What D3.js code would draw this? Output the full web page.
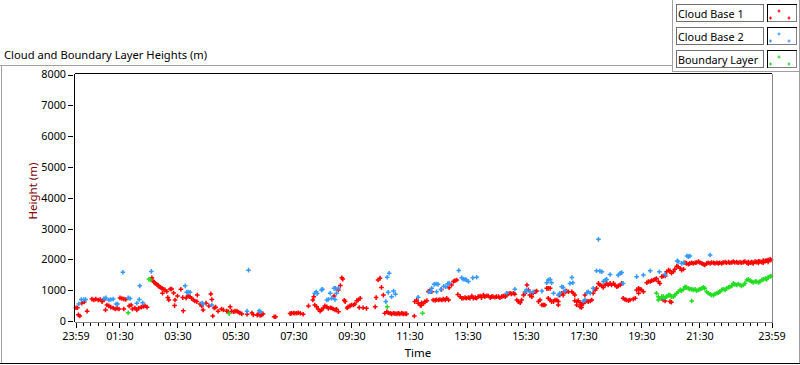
<!DOCTYPE html>
<html><head><meta charset="utf-8">
<script src="https://cdn.jsdelivr.net/npm/d3@7"></script>
<style>
body{margin:0;background:#fff}
svg{display:block}
text{font-family:"Noto Sans",sans-serif;fill:#000}
</style>
</head><body>
<svg id="chart" width="800" height="365"></svg>
<script>
// ---------- data ----------
const chartTitle = "Cloud and Boundary Layer Heights (m)";
const seriesNames = ["Cloud Base 1", "Cloud Base 2", "Boundary Layer"];
const seriesColors = ["#ff0000", "#3399ff", "#22dd22"];
const yTickValues = [0, 1000, 2000, 3000, 4000, 5000, 6000, 7000, 8000];
const xTickLabels = ["23:59","01:30","03:30","05:30","07:30","09:30","11:30","13:30","15:30","17:30","19:30","21:30","23:59"];
const startClock = "23:59";          // time axis starts 23:59, spans 24 h
const spanMinutes = 1440;

// Cloud Base 1 : minutes after 23:59 start, height (m)
const cloudBase1Min = [1,4,6,9,13,18,24,34,38,42,47,51,55,59,62,65,69,73,78,82,86,90,92,96,100,104,100,111,115,118,123,127,131,136,140,144,148,
158,160,162,165,168,171,173,176,179,182,185,180,189,191,193,196,199,203,206,205,211,218,222,223,229,233,237,240,244,247,251,252,258,261,264,270,276,280,282,287,290,295,284,302,306,313,316,320,323,327,330,334,337,340,344,355,365,368,376,378,382,385,388,411,414,444,447,451,454,458,461,465,471,482,
493,491,495,499,502,506,509,513,516,520,523,527,530,533,537,540,544,535,544,548,551,553,556,558,562,564,568,571,575,578,582,585,589,587,595,602,620,622,626,630,633,637,640,644,647,651,654,658,661,665,668,671,675,678,682,685,701,702,706,709,713,716,720,723,727,715,730,733,737,740,744,747,751,754,758,761,765,768,772,757,773,778,782,785,789,791,
796,799,802,806,809,813,816,820,823,827,830,833,837,840,844,847,851,854,858,861,864,868,871,875,878,882,885,889,892,895,899,902,906,909,
913,916,920,923,927,930,934,937,940,944,947,951,954,958,961,965,968,971,
975,978,982,978,982,985,989,992,996,999,999,1002,1006,1009,1013,1016,1020,1027,1030,1033,1033,1037,1040,1044,1047,1051,1054,1058,1037,1044,1047,1054,1061,1065,1068,1071,1075,1078,1082,1085,1089,1092,1096,1099,1102,1106,1109,1113,1116,1120,1123,1127,1130,1133,1137,1140,1144,1147,1154,1158,1161,1165,1168,1171,1175,1165,1182,1185,1189,1192,1196,1199,1202,1206,1209,1213,1216,1220,1223,1227,1230,1233,1237,1240,1244,1247,1251,1254,1258,1216,1220,1230,1233,
1261,1264,1268,1271,1275,1278,1282,1285,1289,1292,1296,1299,1302,1306,1309,1313,1316,1320,1323,1327,1330,1333,1337,1340,1344,1347,1351,1354,1358,1361,1364,1368,1371,1375,1378,1382,1385,1389,1392,1396,1399,1402,1406,1409,1413,1416,1420,1423,1427,1430,1433,1437,1439,
1392,1402,1413,1423,1433];
const cloudBase1Height = [430,430,200,160,580,620,320,710,680,710,680,700,630,680,360,520,490,450,420,390,410,390,750,730,710,700,390,490,520,390,420,360,420,450,470,490,450,
1400,1310,1270,1220,1190,1160,1110,1090,1060,1030,1010,900,960,760,680,1040,1040,910,680,500,810,1030,760,330,750,810,790,740,680,650,630,840,550,490,360,580,490,880,700,420,450,320,160,390,360,320,300,460,320,300,320,320,290,260,230,220,260,200,190,220,180,200,230,140,140,240,250,260,250,250,270,250,220,490,
790,680,520,460,390,320,360,420,490,460,410,430,420,390,360,380,300,810,1010,1150,1400,1360,670,630,420,460,490,520,520,550,660,680,740,440,430,410,460,760,1330,1390,1090,840,250,300,270,250,230,250,240,230,250,230,250,230,240,230,160,630,680,580,520,590,570,630,660,500,960,970,950,680,670,690,680,700,680,710,680,740,680,1020,1080,1170,1280,1310,1330,860,
790,740,740,760,740,760,740,810,740,760,740,790,810,760,840,790,820,810,760,790,790,770,790,790,760,790,810,790,840,880,900,880,900,870,
680,630,590,680,840,900,1170,1010,840,790,900,950,970,630,680,520,520,520,
1060,1060,1060,740,680,630,630,680,680,630,520,840,900,840,950,970,950,950,900,840,660,630,660,590,520,570,630,650,520,460,440,840,630,650,680,900,1010,1060,1220,1170,1140,1090,1170,1220,1170,1220,1170,1220,1170,1110,1140,1170,1220,740,700,680,660,680,710,740,1010,1060,1030,1010,950,900,1240,1280,1280,1310,1330,1350,1380,1280,1220,1440,1460,1460,1600,1650,1630,1550,1600,1680,1780,1760,1710,1650,1680,680,650,630,610,
1890,1870,1840,1870,1890,1870,1890,1900,1930,1890,1870,1840,1820,1870,1890,1870,1900,1890,1870,1890,1870,1890,1870,1900,1910,1890,1910,1890,1900,1930,1900,1910,1890,1910,1890,1910,1930,1890,1910,1890,1910,1890,1930,1910,1940,1930,1910,1960,1950,1960,1980,2000,1980,
1860,1870,1880,1890,1920];

// Cloud Base 2
const cloudBase2Min = [7,12,17,21,59,63,69,73,78,84,87,98,109,113,127,132,133,139,157,227,230,233,237,262,264,282,358,355,380,383,495,498,500,509,511,520,523,527,530,535,538,537,540,544,642,645,649,647,654,658,662,709,731,735,737,742,746,750,747,756,762,766,770,773,793,799,802,806,809,813,822,830,892,909,930,933,940,947,965,975,978,982,985,989,999,1002,1006,1009,1013,1023,1027,1029,1051,1054,1058,1061,1065,1071,1078,1082,1085,1089,1092,1096,1099,1106,1123,1127,1130,1133,1161,1175,1189,1208,1220,1216,1245,1247,1254,1258,1265,1268,1271,1313];
const cloudBase2Height = [550,700,700,700,730,750,680,700,710,550,550,1580,750,730,580,700,1140,590,1610,1140,930,940,930,580,550,520,1650,320,330,300,900,950,890,1010,1030,680,700,900,740,1060,1060,700,900,1060,630,1420,1550,930,790,970,870,770,940,950,1060,1190,1200,1190,950,1020,1130,1110,1210,1230,1640,1400,1360,1350,1330,1280,1400,1420,900,1030,950,1010,950,950,970,1240,1330,1350,1240,900,840,900,1110,1090,980,1220,1410,1240,650,680,920,950,900,1060,1630,2650,1620,1600,1280,1330,1350,1510,1490,1550,1570,1220,1440,1490,1630,1600,1510,740,1950,1930,1870,1890,2110,2090,2110,2140];

// Boundary Layer
const boundaryMin = [109,152,155,318,645,718,1206,1275,
1202,1206,1209,1213,1216,1220,1223,1227,1230,1233,1237,1240,1244,1247,1251,1254,1258,1261,1264,1268,1271,1275,1278,1282,1285,1289,1292,1296,1299,1302,1306,1309,1313,1316,1320,1323,1327,1330,1333,1337,1340,1344,1347,1351,1354,1358,1361,1364,1368,1371,1375,1378,1382,1385,1389,1392,1396,1399,1402,1406,1409,1413,1416,1420,1423,1427,1430,1433,1437,1439];
const boundaryHeight = [270,1360,1330,240,460,250,680,650,
900,790,740,790,790,760,790,840,840,790,790,840,900,950,1010,980,1030,1110,1090,1060,1030,1030,1010,1030,980,1010,1030,1060,1090,1060,950,900,870,840,840,880,900,920,950,1010,1030,1010,1060,1090,1110,1140,1220,1190,1170,1200,1170,1140,1170,1220,1330,1350,1310,1280,1250,1280,1280,1250,1280,1330,1350,1380,1350,1420,1440,1460];

const seriesMin = [cloudBase1Min, cloudBase2Min, boundaryMin];
const seriesHeight = [cloudBase1Height, cloudBase2Height, boundaryHeight];

// ---------- helpers ----------
function clockToOffset(str, isEnd) {
  if (isEnd) return spanMinutes;
  const [h, m] = str.split(":").map(Number);
  const [sh, sm] = startClock.split(":").map(Number);
  return ((h * 60 + m) - (sh * 60 + sm) + 1440) % 1440;
}
const majorTicks = xTickLabels.map((s, i) => clockToOffset(s, i === xTickLabels.length - 1));
const minorTicks = [];
for (let t = 16; t < spanMinutes; t += 15) minorTicks.push(t); // every quarter hour

// ---------- scales ----------
const svg = d3.select("#chart");
const x = d3.scaleLinear().domain([0, spanMinutes]).range([75.5, 771.5]);
const y = d3.scaleLinear().domain([0, 8000]).range([321, 74.5]);

// outer frame
const frame = svg.append("g").attr("fill", "none").attr("shape-rendering", "crispEdges");
frame.append("line").attr("x1", 0).attr("x2", 672).attr("y1", 65.5).attr("y2", 65.5).attr("stroke", "#a0a0a0");
frame.append("line").attr("x1", 1.5).attr("x2", 1.5).attr("y1", 65.5).attr("y2", 363).attr("stroke", "#a0a0a0");
frame.append("line").attr("x1", 0).attr("x2", 800).attr("y1", 363.5).attr("y2", 363.5).attr("stroke", "#000");
frame.append("line").attr("x1", 799.5).attr("x2", 799.5).attr("y1", 0).attr("y2", 363).attr("stroke", "#a0a0a0");
// legend container
frame.append("line").attr("x1", 672.5).attr("x2", 672.5).attr("y1", 0).attr("y2", 72).attr("stroke", "#a0a0a0");
frame.append("line").attr("x1", 672.5).attr("x2", 800).attr("y1", 71.5).attr("y2", 71.5).attr("stroke", "#a0a0a0");

// title
svg.append("text").attr("x", 4).attr("y", 59).attr("font-size", 11.2).text(chartTitle);

// plot background
svg.append("rect").attr("x", 75).attr("y", 74).attr("width", 697).attr("height", 248).attr("fill", "#fff");

// y axis
const yAxis = svg.append("g").attr("transform", "translate(73,0)")
  .call(d3.axisLeft(y).tickValues(yTickValues).tickSize(5).tickPadding(2).tickFormat(d3.format("d")));
yAxis.select(".domain").remove();
yAxis.selectAll("text").attr("font-size", 10.8).attr("font-family", "Noto Sans").attr("fill", "#000");
yAxis.selectAll("line").attr("stroke", "#000");

// x axis ticks
const xMinor = svg.append("g").attr("transform", "translate(0,323)")
  .call(d3.axisBottom(x).tickValues(minorTicks).tickSize(3).tickFormat(""));
xMinor.select(".domain").remove();
const xMajor = svg.append("g").attr("transform", "translate(0,323)")
  .call(d3.axisBottom(x).tickValues(majorTicks).tickSize(5).tickPadding(4)
    .tickFormat((d, i) => xTickLabels[i]));
xMajor.select(".domain").remove();
xMajor.selectAll("text").attr("font-size", 10.8).attr("font-family", "Noto Sans").attr("fill", "#000");
svg.selectAll(".tick line").attr("stroke", "#000").attr("shape-rendering", "crispEdges");

// axis titles
svg.append("text").attr("transform", "translate(36.5,191) rotate(-90)").attr("text-anchor", "middle")
  .attr("font-size", 11.5).style("fill", "#800000").text("Height (m)");
svg.append("text").attr("x", 418).attr("y", 357).attr("text-anchor", "middle")
  .attr("font-size", 11.5).text("Time");

// points
const plus = "M-2.3,0H2.3M0,-2.3V2.3";
seriesNames.forEach((name, si) => {
  const pts = seriesMin[si].map((m, i) => [m, seriesHeight[si][i]]);
  svg.append("g").attr("stroke", seriesColors[si]).attr("stroke-width", 1.5).attr("fill", "none")
    .selectAll("path").data(pts).join("path")
    .attr("transform", d => `translate(${x(d[0])},${y(d[1])})`)
    .attr("d", plus);
});

// plot border (sunken)
const border = svg.append("g").attr("shape-rendering", "crispEdges");
border.append("line").attr("x1", 74.5).attr("x2", 772).attr("y1", 73.5).attr("y2", 73.5).attr("stroke", "#000");
border.append("line").attr("x1", 74.5).attr("x2", 74.5).attr("y1", 73.5).attr("y2", 322).attr("stroke", "#000");
border.append("line").attr("x1", 772.5).attr("x2", 772.5).attr("y1", 73.5).attr("y2", 323).attr("stroke", "#888");
border.append("line").attr("x1", 74.5).attr("x2", 773).attr("y1", 322.5).attr("y2", 322.5).attr("stroke", "#888");

// legend
const legendTop = [4, 27, 50];
const lg = svg.append("g");
seriesNames.forEach((name, i) => {
  const g = lg.append("g").attr("transform", `translate(0,${legendTop[i]})`);
  g.append("rect").attr("x", 676.5).attr("y", 0.5).attr("width", 87).attr("height", 17)
    .attr("fill", "#fff").attr("stroke", "#707070").attr("shape-rendering", "crispEdges");
  g.append("text").attr("x", 678).attr("y", 13.5).attr("font-size", 10.8).text(name);
  g.append("rect").attr("x", 767.5).attr("y", 0.5).attr("width", 29).attr("height", 17)
    .attr("fill", "#fff").attr("stroke", "#808080").attr("shape-rendering", "crispEdges");
  g.append("path").attr("d", "M767.5,18V0.5H796.5").attr("fill", "none").attr("stroke", "#000")
    .attr("shape-rendering", "crispEdges");
  [[779, 7], [770.5, 14], [789, 14]].forEach(p => {
    g.append("path").attr("transform", `translate(${p[0]},${p[1]})`).attr("d", "M-1.5,0H1.5M0,-1.5V1.5")
      .attr("stroke", seriesColors[i]).attr("stroke-width", 1.2).attr("fill", "none");
  });
});
</script>
</body></html>
